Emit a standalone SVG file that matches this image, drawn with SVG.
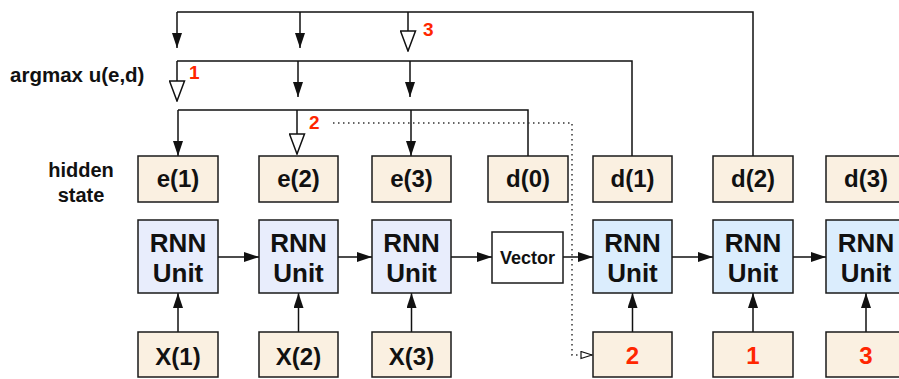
<svg xmlns="http://www.w3.org/2000/svg" width="899" height="379" viewBox="0 0 899 379">
  <defs>
    <style>
      .box { stroke: #1a1a1a; stroke-width: 1.5; }
      .hid { fill: #faf0e1; }
      .enc { fill: #e8edfc; }
      .dec { fill: #dbedfd; }
      .vec { fill: #ffffff; }
      .lbl { font-family: "Liberation Sans", Arial, sans-serif; font-weight: bold; fill: #111; text-anchor: middle; }
      .red { font-family: "Liberation Sans", Arial, sans-serif; font-weight: bold; fill: #ff2600; }
      .wire { fill: none; stroke: #111; stroke-width: 1.5; }
      .dot { fill: none; stroke: #333; stroke-width: 1.5; stroke-dasharray: 1.5 3.5; }
    </style>
    <marker id="arrow" viewBox="0 0 15 10" refX="15" refY="5" markerWidth="15" markerHeight="10" markerUnits="userSpaceOnUse" orient="auto">
      <path d="M0,0 L15,5 L0,10 z" fill="#111"/>
    </marker>
    <marker id="hollow" viewBox="-1 -1 22 17" refX="20" refY="7.5" markerWidth="22" markerHeight="17" markerUnits="userSpaceOnUse" orient="auto">
      <path d="M0,0 L20,7.5 L0,15 z" fill="#fff" stroke="#111" stroke-width="1.5"/>
    </marker>
    <marker id="small" viewBox="-1 -1 13 9" refX="11" refY="3.5" markerWidth="13" markerHeight="9" markerUnits="userSpaceOnUse" orient="auto">
      <path d="M0,0 L11,3.5 L0,7 z" fill="#fff" stroke="#111" stroke-width="1.2"/>
    </marker>
  </defs>

  <rect width="899" height="379" fill="#ffffff"/>

  <!-- side labels -->
  <text class="lbl" x="10" y="82" font-size="20.5" style="text-anchor:start">argmax u(e,d)</text>
  <text class="lbl" x="81" y="177" font-size="20">hidden</text>
  <text class="lbl" x="81" y="202" font-size="20">state</text>

  <!-- connectors -->
  <g id="connectors">
    <!-- pointer from d(2) -->
    <path class="wire" d="M753,156 V12 H177"/>
    <line class="wire" x1="177" y1="12" x2="177" y2="48" marker-end="url(#arrow)"/>
    <line class="wire" x1="300" y1="12" x2="300" y2="48" marker-end="url(#arrow)"/>
    <line class="wire" x1="408" y1="12" x2="408" y2="51" marker-end="url(#hollow)"/>
    <!-- pointer from d(1) -->
    <path class="wire" d="M632,156 V61 H177"/>
    <line class="wire" x1="177" y1="61" x2="177" y2="101" marker-end="url(#hollow)"/>
    <line class="wire" x1="298" y1="61" x2="298" y2="97" marker-end="url(#arrow)"/>
    <line class="wire" x1="410" y1="61" x2="410" y2="97" marker-end="url(#arrow)"/>
    <!-- pointer from d(0) -->
    <path class="wire" d="M528,156 V110 H178"/>
    <line class="wire" x1="178" y1="110" x2="178" y2="156" marker-end="url(#arrow)"/>
    <line class="wire" x1="297" y1="110" x2="297" y2="154" marker-end="url(#hollow)"/>
    <line class="wire" x1="411" y1="110" x2="411" y2="156" marker-end="url(#arrow)"/>
    <!-- selected index fed to the decoder -->
    <path class="dot" d="M333,123 H572 V355 H592" marker-end="url(#small)"/>
    <!-- recurrent links -->
    <line class="wire" x1="218" y1="257" x2="259" y2="257" marker-end="url(#arrow)"/>
    <line class="wire" x1="338" y1="257" x2="372" y2="257" marker-end="url(#arrow)"/>
    <line class="wire" x1="451" y1="257" x2="492" y2="257" marker-end="url(#arrow)"/>
    <line class="wire" x1="563" y1="257" x2="593" y2="257" marker-end="url(#arrow)"/>
    <line class="wire" x1="672" y1="257" x2="713" y2="257" marker-end="url(#arrow)"/>
    <line class="wire" x1="793" y1="257" x2="826" y2="257" marker-end="url(#arrow)"/>
    <!-- inputs -->
    <line class="wire" x1="178" y1="332" x2="178" y2="293" marker-end="url(#arrow)"/>
    <line class="wire" x1="298.5" y1="332" x2="298.5" y2="293" marker-end="url(#arrow)"/>
    <line class="wire" x1="411.5" y1="332" x2="411.5" y2="293" marker-end="url(#arrow)"/>
    <line class="wire" x1="632.5" y1="332" x2="632.5" y2="293" marker-end="url(#arrow)"/>
    <line class="wire" x1="753" y1="332" x2="753" y2="293" marker-end="url(#arrow)"/>
    <line class="wire" x1="866" y1="332" x2="866" y2="293" marker-end="url(#arrow)"/>
  </g>

  <!-- pointer step labels -->
  <text class="red" x="423" y="36" font-size="19">3</text>
  <text class="red" x="189" y="79" font-size="19">1</text>
  <text class="red" x="309" y="129" font-size="19">2</text>

  <!-- hidden states -->
  <g id="e1"><rect class="box hid" x="138" y="156" width="80" height="46"/><text class="lbl" x="178" y="187" font-size="24">e(1)</text></g>
  <g id="e2"><rect class="box hid" x="259" y="156" width="79" height="46"/><text class="lbl" x="298.5" y="187" font-size="24">e(2)</text></g>
  <g id="e3"><rect class="box hid" x="372" y="156" width="79" height="46"/><text class="lbl" x="411.5" y="187" font-size="24">e(3)</text></g>
  <g id="d0"><rect class="box hid" x="488" y="156" width="80" height="46"/><text class="lbl" x="528" y="187" font-size="24">d(0)</text></g>
  <g id="d1"><rect class="box hid" x="593" y="156" width="79" height="46"/><text class="lbl" x="632.5" y="187" font-size="24">d(1)</text></g>
  <g id="d2"><rect class="box hid" x="713" y="156" width="80" height="46"/><text class="lbl" x="753" y="187" font-size="24">d(2)</text></g>
  <g id="d3"><rect class="box hid" x="826" y="156" width="80" height="46"/><text class="lbl" x="866" y="187" font-size="24">d(3)</text></g>

  <!-- encoder units -->
  <g id="enc1"><rect class="box enc" x="138" y="220" width="80" height="73"/><text class="lbl" x="178" y="252" font-size="26">RNN</text><text class="lbl" x="178" y="282" font-size="26">Unit</text></g>
  <g id="enc2"><rect class="box enc" x="259" y="220" width="79" height="73"/><text class="lbl" x="298.5" y="252" font-size="26">RNN</text><text class="lbl" x="298.5" y="282" font-size="26">Unit</text></g>
  <g id="enc3"><rect class="box enc" x="372" y="220" width="79" height="73"/><text class="lbl" x="411.5" y="252" font-size="26">RNN</text><text class="lbl" x="411.5" y="282" font-size="26">Unit</text></g>

  <!-- context vector -->
  <g id="vector"><rect class="box vec" x="492" y="232" width="71" height="51"/><text class="lbl" x="527.5" y="264" font-size="18">Vector</text></g>

  <!-- decoder units -->
  <g id="dec1"><rect class="box dec" x="593" y="220" width="79" height="73"/><text class="lbl" x="632.5" y="252" font-size="26">RNN</text><text class="lbl" x="632.5" y="282" font-size="26">Unit</text></g>
  <g id="dec2"><rect class="box dec" x="713" y="220" width="80" height="73"/><text class="lbl" x="753" y="252" font-size="26">RNN</text><text class="lbl" x="753" y="282" font-size="26">Unit</text></g>
  <g id="dec3"><rect class="box dec" x="826" y="220" width="80" height="73"/><text class="lbl" x="866" y="252" font-size="26">RNN</text><text class="lbl" x="866" y="282" font-size="26">Unit</text></g>

  <!-- encoder inputs -->
  <g id="x1"><rect class="box hid" x="138" y="332" width="80" height="45"/><text class="lbl" x="178" y="365" font-size="24">X(1)</text></g>
  <g id="x2"><rect class="box hid" x="259" y="332" width="79" height="45"/><text class="lbl" x="298.5" y="365" font-size="24">X(2)</text></g>
  <g id="x3"><rect class="box hid" x="372" y="332" width="79" height="45"/><text class="lbl" x="411.5" y="365" font-size="24">X(3)</text></g>

  <!-- decoder inputs -->
  <g id="in2"><rect class="box hid" x="593" y="332" width="79" height="45"/><text class="red" x="632.5" y="364" font-size="24" text-anchor="middle">2</text></g>
  <g id="in1"><rect class="box hid" x="713" y="332" width="80" height="45"/><text class="red" x="753" y="364" font-size="24" text-anchor="middle">1</text></g>
  <g id="in3"><rect class="box hid" x="826" y="332" width="80" height="45"/><text class="red" x="866" y="364" font-size="24" text-anchor="middle">3</text></g>
</svg>
